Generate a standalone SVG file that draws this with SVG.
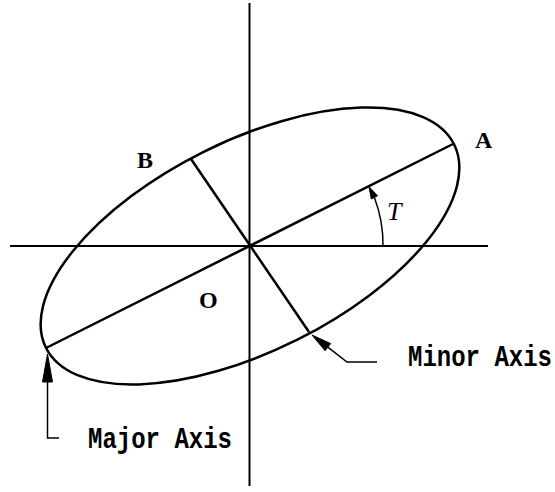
<svg xmlns="http://www.w3.org/2000/svg" width="555" height="492" viewBox="0 0 555 492">
<style>
.ax{stroke:#000;stroke-width:2;fill:none}
.el{stroke:#000;stroke-width:2.5;fill:none}
.ln{stroke:#000;stroke-width:2.5;fill:none}
.ar{stroke:#000;stroke-width:1.5;fill:none}
.hd{fill:#000;stroke:#000;stroke-width:1}
.lbl{font-family:"Liberation Serif",serif;font-weight:bold;font-size:24px;fill:#000}
.cap{font-family:"Liberation Mono",monospace;font-weight:bold;font-size:24px;fill:#000}
.it{font-family:"Liberation Serif",serif;font-style:italic;font-size:26px;fill:#000}
</style>
<rect width="555" height="492" fill="#fff"/>
<g id="axes">
<line class="ax" x1="10" y1="246" x2="488" y2="246"/>
<line class="ax" x1="249.5" y1="3" x2="249.5" y2="486"/>
</g>
<g id="ellipse">
<ellipse class="el" cx="250" cy="246" rx="228" ry="105" transform="rotate(-26.5 250 246)"/>
</g>
<g id="connectors">
<line class="ln" x1="46" y1="348" x2="453" y2="144"/>
<line class="ln" x1="191" y1="159" x2="309" y2="332"/>
<path class="ar" d="M383,246 A133,133 0 0 0 374.4,197.4"/>
<polygon class="hd" points="369,186.7 377.5,195.8 371.3,199"/>
<path class="ar" d="M47.5,380 V438 H59"/>
<polygon class="hd" points="47.5,354 52.5,382 42.5,382"/>
<path class="ar" d="M327.8,347.2 L347,362 H377"/>
<polygon class="hd" points="312,335 330.6,343.6 325.1,350.8"/>
</g>
<g id="label-A"><text class="lbl" x="475" y="148">A</text></g>
<g id="label-B"><text class="lbl" x="137" y="168">B</text></g>
<g id="label-O"><text class="lbl" x="199" y="308">O</text></g>
<g id="label-T"><text class="it" x="387" y="220">T</text></g>
<g id="label-major"><text class="cap" transform="translate(88,448) scale(1,1.2)" textLength="144" lengthAdjust="spacing">Major Axis</text></g>
<g id="label-minor"><text class="cap" transform="translate(408,366) scale(1,1.2)" textLength="144" lengthAdjust="spacing">Minor Axis</text></g>
</svg>
